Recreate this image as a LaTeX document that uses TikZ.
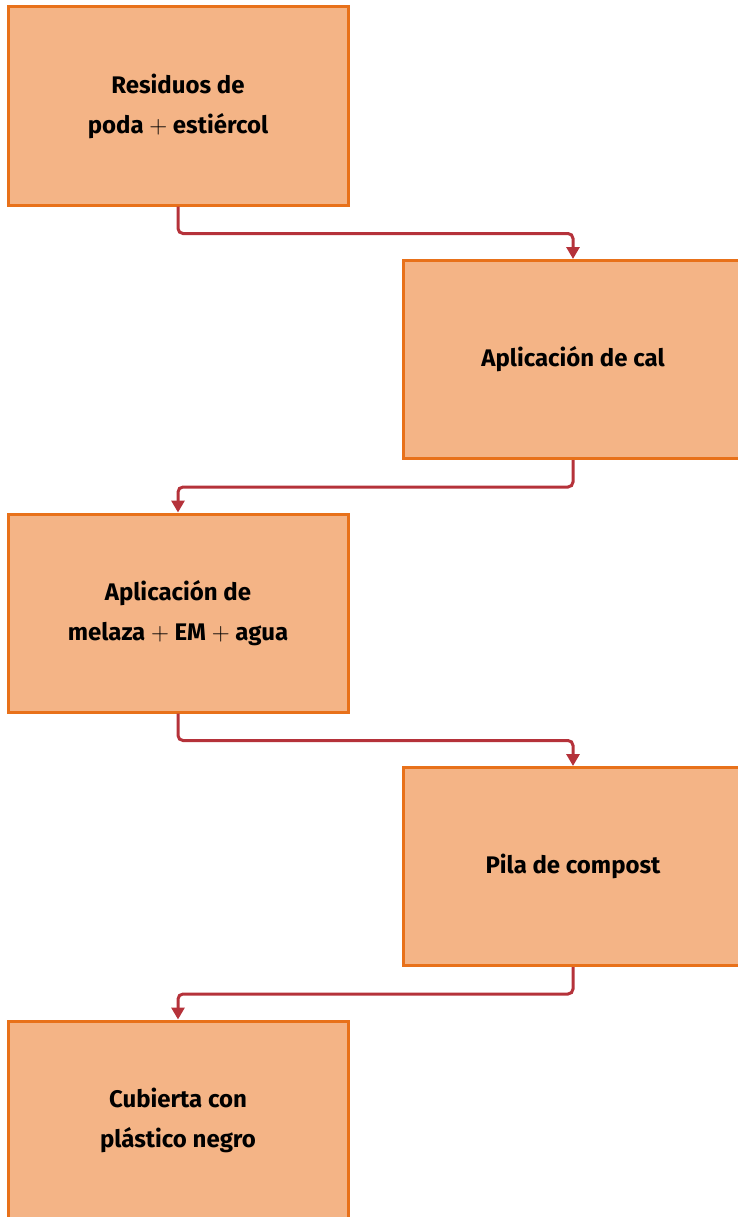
\documentclass[tikz,border=0pt]{standalone}
\usepackage{fontspec}
\setmainfont{Fira Sans}
\usetikzlibrary{arrows.meta}
\definecolor{boxfill}{HTML}{F4B486}
\definecolor{boxedge}{HTML}{E8711A}
\definecolor{linkred}{HTML}{B5323A}
\newcommand{\plus}{\ $+$\ }
\begin{document}
\begin{tikzpicture}[x=1pt,y=-1pt,
  stepbox/.style={draw=boxedge,fill=boxfill,line width=3pt,minimum width=340pt,minimum height=198pt,
    inner sep=0pt,align=center,font=\fontsize{24}{40}\selectfont\bfseries},
  link/.style={draw=linkred,line width=3pt,rounded corners=5pt,-{Triangle[width=13pt,length=12pt]}}]
\useasboundingbox (0,0) rectangle (738,1217);
\clip (0,0) rectangle (738,1217);
\node[stepbox] (a) at (178,106) {Residuos de\\poda\plus estiércol};
\node[stepbox] (b) at (573,359.5) {Aplicación de cal};
\node[stepbox] (c) at (178,613) {Aplicación de\\melaza\plus EM\plus agua};
\node[stepbox] (d) at (573,866.5) {Pila de compost};
\node[stepbox] (e) at (178,1120) {Cubierta con\\plástico negro};
\draw[link] (a.south) -- ++(0,27) -| (b.north);
\draw[link] (b.south) -- ++(0,27) -| (c.north);
\draw[link] (c.south) -- ++(0,27) -| (d.north);
\draw[link] (d.south) -- ++(0,27) -| (e.north);
\end{tikzpicture}
\end{document}
